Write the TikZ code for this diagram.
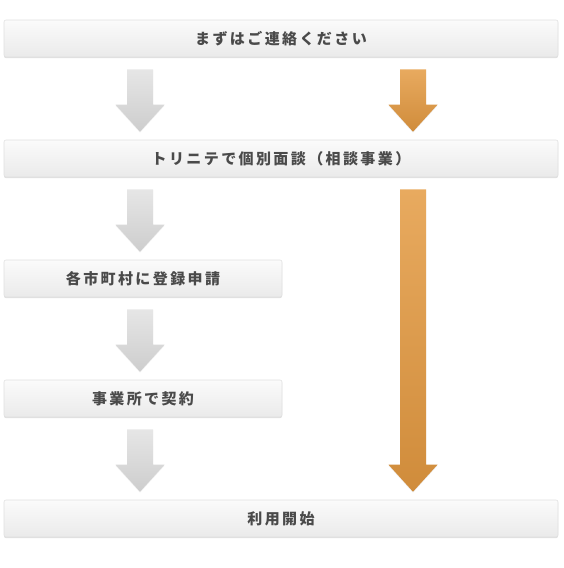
\documentclass[tikz,border=0pt]{standalone}
\usepackage{fontspec}
\newfontfamily\jpfont{Noto Sans CJK JP}[LetterSpace=16]
\usetikzlibrary{calc,shadows}
\definecolor{boxtop}{HTML}{FBFBFB}
\definecolor{boxbot}{HTML}{EAEAEA}
\definecolor{boxline}{HTML}{E0E0E0}
\definecolor{txtgray}{HTML}{4A4A4A}
\definecolor{graytop}{HTML}{E6E6E6}
\definecolor{graybot}{HTML}{CDCDCD}
\definecolor{orgtop}{HTML}{E8AA5F}
\definecolor{orgbot}{HTML}{D08C3B}
\tikzset{
  stepbox/.style={draw=boxline, line width=0.6pt, rounded corners=2pt,
    top color=boxtop, bottom color=boxbot, minimum height=37,
    inner sep=0pt, text=txtgray, font=\jpfont\bfseries\fontsize{15}{15}\selectfont,
    drop shadow={opacity=0.25, shadow xshift=0pt, shadow yshift=-1.2pt}},
  grayarrow/.style={top color=graytop, bottom color=graybot,
    drop shadow={opacity=0.12, shadow xshift=0pt, shadow yshift=-1pt}},
  orangearrow/.style={top color=orgtop, bottom color=orgbot,
    drop shadow={opacity=0.15, shadow xshift=0pt, shadow yshift=-1pt}}
}
% block arrow: style, x, from node, to node
\newcommand\blockarr[4]{%
  \path[#1] let \p1=(#3.south), \p2=(#4.north) in
    (#2pt-13pt,\y1-12pt) -- (#2pt+13pt,\y1-12pt) -- (#2pt+13pt,\y2+35pt)
    -- (#2pt+24.5pt,\y2+35pt) -- (#2pt,\y2+8pt) -- (#2pt-24.5pt,\y2+35pt)
    -- (#2pt-13pt,\y2+35pt) -- cycle;}
\begin{document}
\begin{tikzpicture}[x=1pt, y=-1pt]
  \useasboundingbox (0,0) rectangle (563,568);

  \node (b1) at (281,38.5) [stepbox, minimum width=554] {まずはご連絡ください};
  \node (b2) at (281,158.5) [stepbox, minimum width=554] {トリニテで個別面談（相談事業）};
  \node (b3) at (143,278.5) [stepbox, minimum width=278] {各市町村に登録申請};
  \node (b4) at (143,398.5) [stepbox, minimum width=278] {事業所で契約};
  \node (b5) at (281,518.5) [stepbox, minimum width=554] {利用開始};

  \blockarr{grayarrow}{140}{b1}{b2}
  \blockarr{grayarrow}{140}{b2}{b3}
  \blockarr{grayarrow}{140}{b3}{b4}
  \blockarr{grayarrow}{140}{b4}{b5}

  \blockarr{orangearrow}{413}{b1}{b2}
  \blockarr{orangearrow}{413}{b2}{b5}

\end{tikzpicture}
\end{document}
